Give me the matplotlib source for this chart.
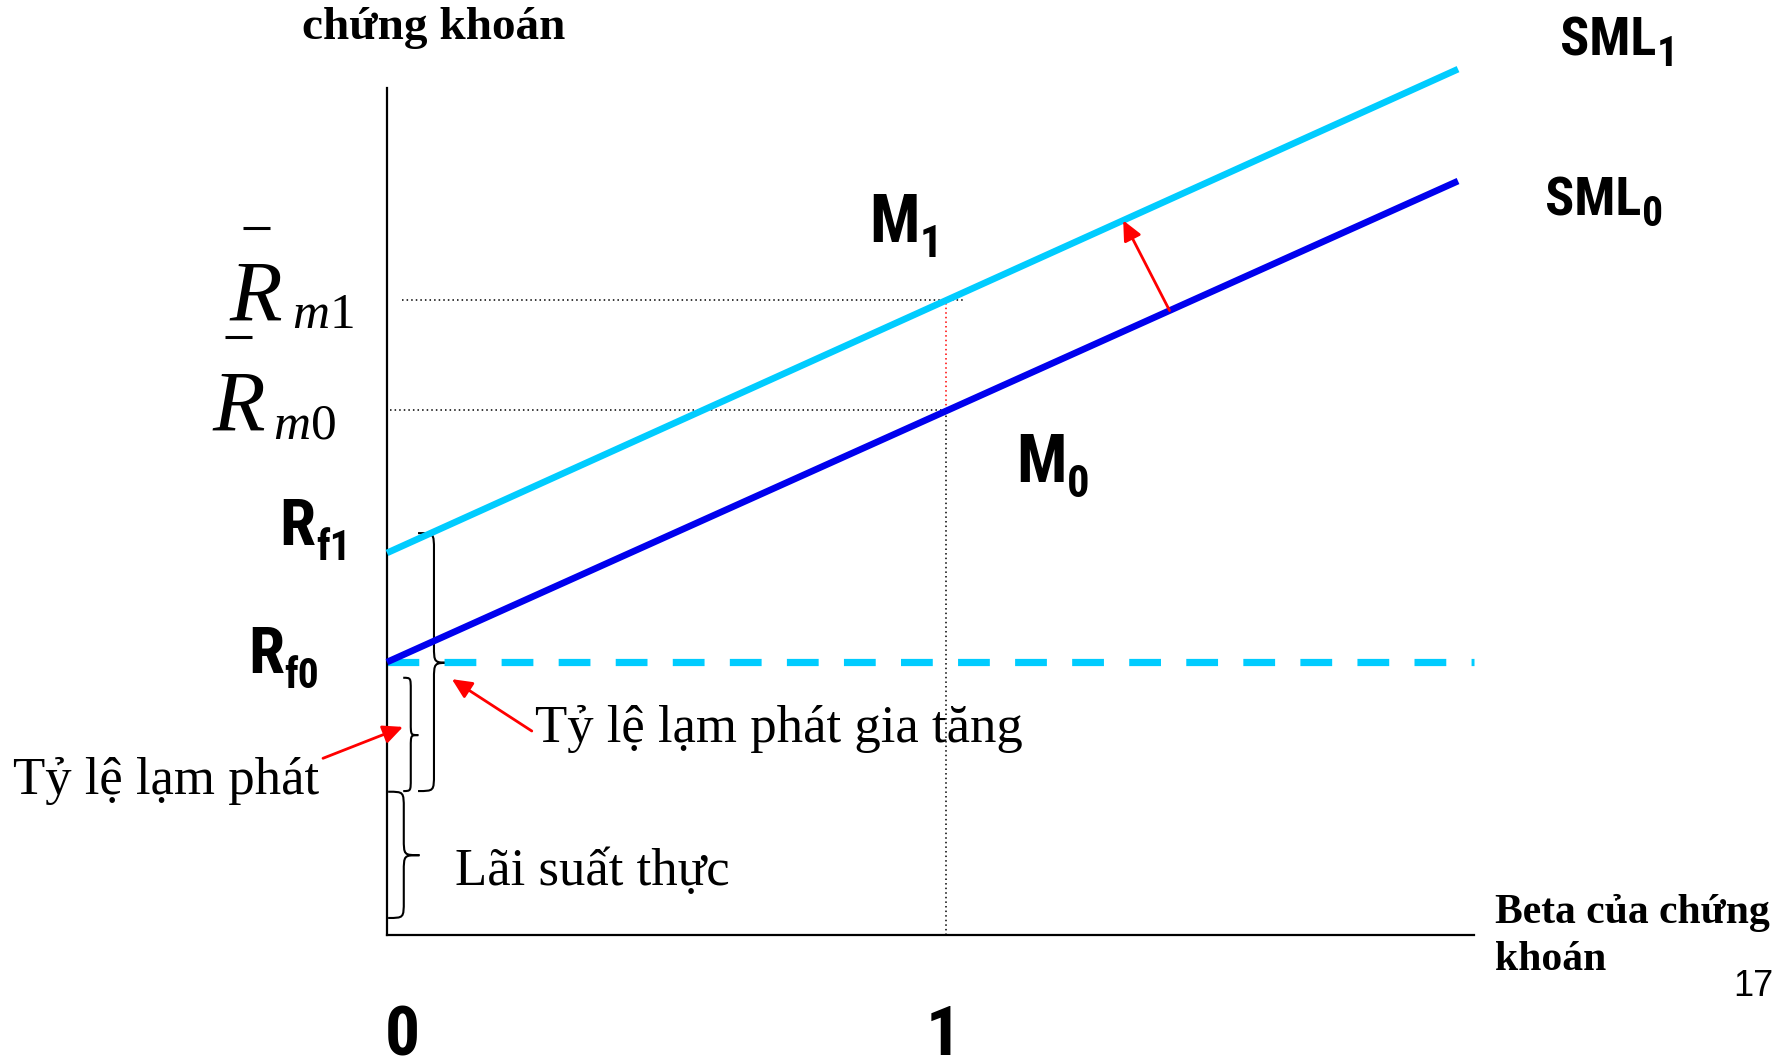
import matplotlib
matplotlib.use("Agg")
import matplotlib.pyplot as plt
from matplotlib.path import Path
import matplotlib.patches as mpatches
from matplotlib import font_manager as fm

# ---- values of the SML picture ----
beta_ends = [0.0, 1.916]          # betas where both SML lines start / stop
sml0_vals = [4.0, 11.05]          # SML0 at those betas
sml1_vals = [5.6, 12.69]          # SML1 at those betas
rf_vals = [4.0, 5.6]              # Rf0, Rf1
rm_vals = [7.7, 9.3]              # Rm0, Rm1 (at beta = 1)
market_beta = 1.0
x_max = 1.9445
y_max = 12.42

# brace spans (bottom, mid, top)
real_rate_span = (0.25, 1.17, 2.10)
inflation_span = (2.11, 2.93, 3.77)
extra_infl_span = (2.11, 3.99, 5.89)

serif = ["Liberation Serif", "DejaVu Serif"]

# pick a narrow bold sans for the SML / M / R labels
_fonts = fm.fontManager.ttflist
_names = {f.name for f in _fonts}
if "Roboto Condensed" in _names:
    narrow = dict(family=["Roboto Condensed", "DejaVu Sans"], weight="bold")
elif "Liberation Sans Narrow" in _names:
    narrow = dict(family=["Liberation Sans Narrow", "DejaVu Sans"], weight="bold")
elif any(f.name == "DejaVu Sans" and f.stretch == "condensed" for f in _fonts):
    narrow = dict(family=["DejaVu Sans"], weight="bold", stretch="condensed")
else:
    narrow = dict(family=["Liberation Sans", "DejaVu Sans"], weight="bold")

plt.rcParams["mathtext.fontset"] = "custom"
plt.rcParams["mathtext.it"] = "Liberation Serif:italic"
plt.rcParams["mathtext.rm"] = "Liberation Serif"

CYAN = "#00CCFF"
BLUE = "#0000EE"


def draw_brace(ax, x0, width, span, curl, lw=1.5):
    # right-facing curly brace from span[0] to span[2], tip at span[1]
    y_bot, y_mid, y_top = span
    h = width / 2.0
    verts = [
        (x0, y_top),
        (x0 + h, y_top), (x0 + h, y_top), (x0 + h, y_top - curl),
        (x0 + h, y_mid + curl),
        (x0 + h, y_mid), (x0 + h, y_mid), (x0 + width, y_mid),
        (x0 + h, y_mid), (x0 + h, y_mid), (x0 + h, y_mid - curl),
        (x0 + h, y_bot + curl),
        (x0 + h, y_bot), (x0 + h, y_bot), (x0, y_bot),
    ]
    codes = [Path.MOVETO,
             Path.CURVE4, Path.CURVE4, Path.CURVE4,
             Path.LINETO,
             Path.CURVE4, Path.CURVE4, Path.CURVE4,
             Path.CURVE4, Path.CURVE4, Path.CURVE4,
             Path.LINETO,
             Path.CURVE4, Path.CURVE4, Path.CURVE4]
    patch = mpatches.PathPatch(Path(verts, codes), facecolor="none",
                               edgecolor="black", lw=lw, clip_on=False)
    ax.add_patch(patch)


def red_arrow(ax, tail, tip):
    ax.annotate("", xy=tip, xytext=tail, annotation_clip=False,
                arrowprops=dict(arrowstyle="-|>,head_length=0.6,head_width=0.28",
                                mutation_scale=20, color="red", lw=2,
                                shrinkA=0, shrinkB=0))


def sml_at(vals, b):
    return vals[0] + (vals[1] - vals[0]) / beta_ends[1] * b


fig = plt.figure(figsize=(17.81, 10.60), dpi=100)
ax = fig.add_axes([0.2173, 0.1179, 0.6103, 0.7995])
ax.set_xlim(0, x_max)
ax.set_ylim(0, y_max)
for side in ["top", "right"]:
    ax.spines[side].set_visible(False)
for side in ["left", "bottom"]:
    ax.spines[side].set_linewidth(1.6)
ax.set_xticks([])
ax.set_yticks([])

# guide lines for the market portfolio
dots = (0, (1, 2))
ax.plot([0.027, 1.03], [rm_vals[1], rm_vals[1]], color="black", lw=1.1, ls=dots, clip_on=False)
ax.plot([0.005, market_beta], [rm_vals[0], rm_vals[0]], color="black", lw=1.1, ls=dots, clip_on=False)
ax.plot([market_beta, market_beta], [0, rm_vals[0]], color="black", lw=1.1, ls=dots)
ax.plot([market_beta, market_beta], [rm_vals[0], rm_vals[1]], color="red", lw=1.1, ls=dots)

# old risk free level
ax.plot([0, x_max], [rf_vals[0], rf_vals[0]], color=CYAN, lw=5.2,
        ls=(0, (4.4, 3.5)), dash_capstyle="butt", clip_on=False)

# the two security market lines
ax.plot(beta_ends, sml0_vals, color=BLUE, lw=4.8, solid_capstyle="butt",
        clip_on=False, zorder=3)
ax.plot(beta_ends, sml1_vals, color=CYAN, lw=4.8, solid_capstyle="butt",
        clip_on=False, zorder=3)

# braces for the rate components
draw_brace(ax, 0.002, 0.056, real_rate_span, 0.25)
draw_brace(ax, 0.029, 0.027, inflation_span, 0.18)
draw_brace(ax, 0.0555, 0.057, extra_infl_span, 0.25)

# arrows
red_arrow(ax, (-0.1145, 2.59), (0.0286, 3.05))
red_arrow(ax, (0.259, 2.99), (0.116, 3.75))
shift_b = [1.40, 1.317]
red_arrow(ax, (shift_b[0], sml_at(sml0_vals, shift_b[0])),
          (shift_b[1], sml_at(sml1_vals, shift_b[1])))

# ---- labels ----
txt = dict(clip_on=False, va="baseline", ha="left")
ax.text(-0.152, 13.13, "chứng khoán", family=serif, weight="bold", fontsize=34, **txt)
ax.text(1.982, 0.176, "Beta của chứng", family=serif, weight="bold", fontsize=30, **txt)
ax.text(1.982, -0.513, "khoán", family=serif, weight="bold", fontsize=30, **txt)
ax.text(2.48, -0.89, "17", family=["Liberation Sans", "DejaVu Sans"], fontsize=26,
        clip_on=False, va="baseline", ha="right")

ax.text(-0.669, 2.066, "Tỷ lệ lạm phát", family=serif, fontsize=38, **txt)
ax.text(0.265, 2.828, "Tỷ lệ lạm phát gia tăng", family=serif, fontsize=38, **txt)
ax.text(0.122, 0.733, "Lãi suất thực", family=serif, fontsize=38, **txt)

# narrow labels with subscripts: (text, x, y, size, sub, sub size, drop in points)
cond_labels = [
    ("SML", 2.098, 12.894, 39, "1", 30, 8),
    ("SML", 2.072, 10.549, 39, "0", 30, 8),
    ("M", 0.862, 10.154, 48, "1", 32, 11),
    ("M", 1.125, 6.637, 48, "0", 32, 11),
    ("R", -0.192, 5.714, 47, "f1", 30, 11),
    ("R", -0.249, 3.839, 47, "f0", 30, 11),
]
renderer = fig.canvas.get_renderer()
for main, mx, my, ms, sub, ss, drop in cond_labels:
    t = ax.text(mx, my, main, fontsize=ms, **narrow, **txt)
    w_pt = t.get_window_extent(renderer).width * 72.0 / fig.dpi
    ax.annotate(sub, xy=(mx, my), xycoords="data", xytext=(w_pt + 0.5, -drop),
                textcoords="offset points", fontsize=ss, va="baseline",
                ha="left", annotation_clip=False, **narrow)

# beta tick labels
ax.text(0.028, -1.76, "0", fontsize=50, clip_on=False, va="baseline",
        ha="center", **narrow)
ax.text(0.995, -1.76, "1", fontsize=50, clip_on=False, va="baseline",
        ha="center", **narrow)

# expected market returns with bars
rm_labels = [
    (-0.281, 9.011, "$m1$", -0.170, 8.894, (-0.258, -0.209), 10.359),
    (-0.313, 7.399, "$m0$", -0.204, 7.282, (-0.290, -0.2415), 8.762),
]
for rx, ry, sub, sx, sy, bar_x, bar_y in rm_labels:
    ax.text(rx, ry, "R", family=serif, style="italic", fontsize=62, **txt)
    ax.text(sx, sy, sub, fontsize=37, **txt)
    ax.plot(bar_x, [bar_y, bar_y], color="black", lw=2.2, clip_on=False,
            solid_capstyle="butt")

fig.savefig("out.png", dpi=100)
